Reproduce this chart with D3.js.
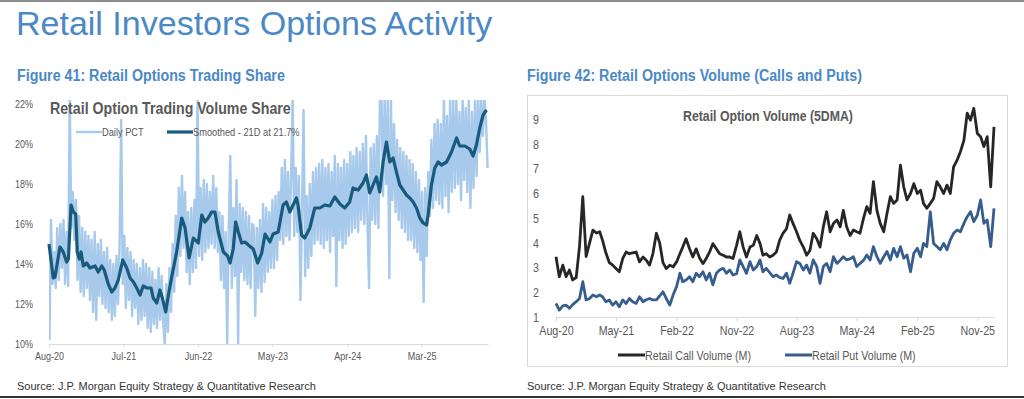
<!DOCTYPE html>
<html>
<head>
<meta charset="utf-8">
<script src="https://cdn.jsdelivr.net/npm/d3@7"></script>
<style>
body { margin: 0; background: #fff; }
svg { display: block; }
</style>
</head>
<body>
<svg id="chart" width="1024" height="399"></svg>
<script>
// ---- Figure 41 data ----
const leftTickLabels = ["Aug-20", "Jul-21", "Jun-22", "May-23", "Apr-24", "Mar-25"];
const leftYTicks = [10, 12, 14, 16, 18, 20, 22];
const leftSeriesNames = ["Daily PCT", "Smoothed - 21D at 21.7%"];

// weekly samples of the daily share, first one on this monday
const dailyStart = "2020-08-03";
const dailyPct = [
	10.2, 16.2, 13.0, 14.6, 12.8,  15.8, 13.2, 16.0, 13.8,  16.2, 13.0, 15.6, 12.9,  22.5, 15.8, 17.6, 15.2, 17.2,  13.2, 16.4, 12.6, 15.8,
	12.4, 15.6, 12.8, 15.4,  12.2, 15.2, 11.6, 15.6,  11.2, 15.0, 12.4, 15.2, 12.0,  14.6, 11.8, 14.8, 11.6,  14.2, 11.2, 14.0, 11.4, 14.4,  12.0, 15.0, 21.2, 13.0,
	15.4, 11.8, 14.8, 12.2,  14.6, 11.4, 14.2, 11.8, 14.0,  11.0, 13.8, 11.2, 14.2,  11.4, 14.0, 10.8, 13.8,  10.6, 13.6, 11.0, 13.2, 10.8,  13.8, 11.2, 13.4, 11.0,
	10.0, 13.0, 10.6, 13.8, 11.6,  15.0, 12.6, 16.4, 13.4,  17.8, 14.4, 18.4, 14.8,  17.6, 13.6, 16.6, 13.0,  16.8, 13.6, 17.2, 13.8, 22.3,  14.4, 17.8, 14.2, 18.2,
	14.6, 18.0, 14.8, 17.6,  15.0, 18.4, 14.8, 17.8, 14.6,  16.6, 13.2, 16.4, 12.8,  15.6, 10.0, 15.8, 19.4, 12.8,  16.8, 13.4, 18.2, 10.0,  17.0, 13.6, 16.8, 13.2,
	16.6, 13.0, 16.4, 12.8, 16.0,  15.9, 11.4, 15.8, 12.8,  16.2, 12.6, 17.0, 13.1,  16.8, 13.6, 16.6, 13.8,  17.2, 13.8, 17.4, 14.2, 17.6,  15.2, 18.8, 15.0, 19.2,
	15.4, 18.6, 15.2, 18.4, 22.3,  15.4, 18.8, 15.6, 18.4,  12.2, 16.8, 21.7, 13.4,  17.4, 13.8, 18.0, 14.4, 18.6,  15.0, 18.8, 15.2, 19.0,  15.0, 19.2, 14.8, 18.8,
	15.2, 19.0, 14.6, 18.6, 15.4,  19.4, 12.9, 19.0, 15.2,  18.8, 14.8, 19.2, 15.0,  19.0, 15.4, 19.6, 15.6, 19.4,  15.8, 19.8, 15.6, 19.6,  16.2, 20.0, 16.0, 20.4,
	16.0, 12.8, 19.8, 16.2, 20.0,  16.0, 20.4, 15.8, 22.3,  22.3, 17.4, 22.3, 18.0, 22.3,  13.3, 22.3, 17.2, 21.0,  16.6, 20.2, 16.2, 19.8,  15.8, 19.6, 15.6, 19.4, 15.2,
	19.2, 15.2, 19.0, 14.8,  18.6, 14.6, 18.2, 14.2,  17.6, 12.1, 17.8, 14.4, 18.6,  16.4, 20.2, 16.8, 21.0,  17.2, 21.2, 17.0, 21.0,  16.8, 22.3, 17.4, 21.4, 16.6,
	22.3, 17.6, 22.3, 17.8,  22.3, 18.0, 21.6, 17.2,  22.3, 18.2, 21.8, 17.6, 22.3,  16.8, 21.6, 17.8, 22.3,  18.4, 22.3, 19.6, 22.3,  20.4, 22.3, 21.2, 18.8
];

const smoothDates = [
	"2020-08-01", "2020-08-20", "2020-08-28", "2020-09-19", "2020-10-04", "2020-10-19", "2020-10-27", "2020-11-08", "2020-11-18", "2020-11-29",
	"2020-12-06", "2020-12-15", "2020-12-23", "2021-01-02", "2021-01-17", "2021-02-01", "2021-02-24", "2021-03-10", "2021-03-26", "2021-04-06",
	"2021-04-24", "2021-05-10", "2021-05-24", "2021-06-08", "2021-06-28", "2021-07-16", "2021-07-31", "2021-08-15", "2021-08-30", "2021-09-14",
	"2021-09-28", "2021-10-14", "2021-11-02", "2021-11-12", "2021-11-28", "2021-12-12", "2021-12-23", "2022-01-07", "2022-01-19", "2022-02-03",
	"2022-02-25", "2022-03-20", "2022-04-04", "2022-04-22", "2022-05-11", "2022-06-02", "2022-06-18", "2022-07-02", "2022-07-17", "2022-08-01",
	"2022-08-16", "2022-08-31", "2022-09-23", "2022-10-12", "2022-10-23", "2022-11-06", "2022-11-17", "2022-11-29", "2022-12-14", "2022-12-29",
	"2023-01-13", "2023-02-04", "2023-02-24", "2023-03-14", "2023-03-29", "2023-04-20", "2023-05-04", "2023-05-27", "2023-06-18", "2023-07-03",
	"2023-07-18", "2023-08-02", "2023-08-17", "2023-08-24", "2023-09-09", "2023-09-23", "2023-10-16", "2023-11-07", "2023-11-30", "2023-12-22",
	"2024-01-14", "2024-02-05", "2024-02-28", "2024-03-21", "2024-04-12", "2024-04-27", "2024-05-20", "2024-06-11", "2024-06-26", "2024-07-11",
	"2024-07-26", "2024-08-10", "2024-08-25", "2024-09-09", "2024-09-24", "2024-10-09", "2024-10-24", "2024-11-08", "2024-11-23", "2024-12-08",
	"2024-12-23", "2025-01-07", "2025-01-22", "2025-02-06", "2025-02-21", "2025-03-08", "2025-03-23", "2025-03-30", "2025-04-14", "2025-04-29",
	"2025-05-14", "2025-05-29", "2025-06-21", "2025-07-13", "2025-08-05", "2025-08-19", "2025-09-11", "2025-10-03", "2025-10-18", "2025-11-02",
	"2025-11-17", "2025-12-02", "2025-12-17"
];
const smoothPct = [
	15.0, 13.3, 13.35, 14.85, 14.6, 14.1, 14.25, 16.95, 16.6, 16.5,
	14.6, 14.25, 14.6, 13.9, 14.05, 13.8, 13.9, 13.6, 13.9, 13.7,
	13.0, 12.6, 12.8, 13.2, 14.2, 13.8, 13.3, 13.1, 12.8, 12.45,
	12.9, 12.8, 12.8, 12.3, 12.05, 12.7, 12.3, 11.6, 12.45, 13.35,
	14.6, 16.3, 15.8, 14.3, 15.3, 15.05, 16.45, 16.1, 16.3, 16.6,
	16.6, 15.6, 14.6, 14.4, 14.05, 14.75, 16.1, 15.6, 15.05, 15.1,
	14.95, 14.75, 14.05, 14.55, 15.5, 15.1, 15.5, 15.6, 16.95, 17.1,
	16.6, 16.95, 17.3, 16.95, 15.45, 15.3, 15.8, 16.8, 16.8, 16.95,
	16.9, 17.35, 17.0, 16.8, 17.1, 17.8, 17.7, 18.05, 18.45, 17.55,
	17.95, 18.35, 17.6, 19.1, 20.1, 19.1, 19.3, 18.6, 17.95, 17.7,
	17.45, 17.3, 17.1, 16.8, 16.3, 16.05, 15.95, 16.45, 17.95, 18.8,
	19.1, 18.95, 19.1, 19.6, 20.3, 19.9, 19.9, 19.75, 19.4, 19.95,
	20.8, 21.45, 21.7
];

// ---- Figure 42 data ----
const rightTickLabels = ["Aug-20", "May-21", "Feb-22", "Nov-22", "Aug-23", "May-24", "Feb-25", "Nov-25"];
const rightYTicks = [1, 2, 3, 4, 5, 6, 7, 8, 9];
const rightSeriesNames = ["Retail Call Volume (M)", "Retail Put Volume (M)"];

// two points per month (1st and 16th), starting here
const volStart = "2020-08-01";
const callVol = [
	3.44, 2.63, 3.1, 2.63, 2.9, 2.5, 2.6, 3.85, 5.87, 3.45,
	4.0, 4.52, 4.4, 4.45, 4.1, 3.6, 3.2, 3.1, 2.96, 2.83,
	3.37, 3.63, 3.56, 3.6, 3.63, 3.23, 3.43, 3.3, 3.1, 3.56,
	4.39, 4.0, 3.2, 2.96, 3.1, 3.03, 3.23, 3.56, 3.83, 4.17,
	3.76, 3.43, 3.76, 3.4, 3.16, 3.37, 3.63, 3.97, 3.76, 3.56,
	3.5, 3.43, 3.43, 3.37, 3.9, 4.45, 3.83, 3.43, 3.83, 3.9,
	4.3, 3.97, 3.5, 3.56, 3.43, 3.5, 3.63, 4.1, 4.4, 4.57,
	5.13, 4.79, 4.45, 4.1, 3.83, 3.5, 3.7, 4.39, 4.17, 3.83,
	4.65, 5.26, 4.45, 4.79, 4.93, 4.65, 5.32, 4.65, 4.3, 4.52,
	4.45, 4.39, 5.0, 5.47, 5.2, 6.48, 5.32, 4.79, 4.45, 5.2,
	5.87, 5.6, 5.74, 7.15, 6.27, 5.74, 6.0, 6.4, 6.0, 6.13,
	5.6, 5.4, 5.6, 5.8, 6.48, 6.27, 6.0, 6.34, 6.0, 7.08,
	7.35, 7.69, 8.15, 9.25, 8.97, 9.45, 8.43, 8.3, 7.9, 8.3,
	6.27, 8.7
];
const putVol = [
	1.55, 1.28, 1.45, 1.48, 1.35, 1.5, 1.62, 1.75, 2.43, 1.69,
	1.75, 1.89, 1.82, 1.89, 1.82, 1.62, 1.69, 1.48, 1.62, 1.41,
	1.69, 1.55, 1.75, 1.62, 1.55, 1.82, 1.62, 1.7, 1.75, 1.69,
	1.69, 1.85, 2.02, 1.75, 1.48, 1.89, 2.23, 2.77, 2.43, 2.5,
	2.63, 2.43, 2.77, 2.63, 2.83, 2.5, 2.77, 2.3, 2.77, 2.9,
	2.97, 2.77, 2.9, 2.7, 2.75, 3.31, 3.04, 2.77, 3.24, 2.9,
	3.04, 3.31, 2.83, 2.97, 2.8, 2.63, 2.7, 2.6, 2.56, 2.77,
	2.36, 2.77, 3.24, 3.17, 2.9, 3.1, 2.77, 3.31, 3.04, 2.36,
	3.04, 3.17, 2.83, 3.44, 3.17, 3.3, 3.44, 3.31, 3.35, 3.44,
	3.04, 3.17, 3.3, 3.51, 3.31, 3.85, 3.44, 3.17, 3.44, 3.65,
	3.31, 3.78, 3.44, 3.85, 3.38, 3.51, 2.83, 3.58, 3.78, 3.44,
	3.98, 3.85, 5.26, 3.98, 3.85, 3.72, 3.98, 3.72, 4.12, 4.39,
	4.52, 4.45, 4.79, 5.06, 5.26, 4.86, 5.12, 5.74, 4.79, 4.93,
	3.85, 5.4
];

// ---- styles ----
const blue = "#4a89c6";
const grey = "#595959";
const axisGrey = "#d9d9d9";
const narrow = '"Liberation Sans Narrow", "Arial Narrow", sans-serif';
const sans = '"Liberation Sans", Arial, sans-serif';

var svg = d3.select("#chart");
var parseDay = d3.timeParse("%Y-%m-%d");
var parseTick = d3.timeParse("%b-%y");

// is a narrow face installed? if not, squeeze the text ourselves
function probe(family) {
	var t = svg.append("text").attr("font-family", family).attr("font-size", 20).text("Retail Option Volume");
	var w = t.node().getComputedTextLength();
	t.remove();
	return w;
}
const hasNarrow = probe(narrow) < 0.9 * probe(sans);

function squeeze(sel) {
	if (hasNarrow) return;
	sel.each(function() {
		var w = this.getComputedTextLength();
		d3.select(this).attr("textLength", w * 0.82).attr("lengthAdjust", "spacingAndGlyphs");
	});
}

function label(x, y, txt, size, opts) {
	opts = opts || {};
	var t = svg.append("text")
		.attr("x", x)
		.attr("y", y)
		.attr("font-family", opts.narrow ? narrow : sans)
		.attr("font-size", size)
		.attr("font-weight", opts.bold ? "bold" : "normal")
		.attr("fill", opts.color || grey)
		.attr("text-anchor", opts.anchor || "start")
		.attr("dominant-baseline", "central")
		.text(txt);
	if (opts.narrow) squeeze(t);
	return t;
}

// page frame
svg.append("rect").attr("x", 0).attr("y", 0).attr("width", 1024).attr("height", 2).attr("fill", "#8c8c8c");
svg.append("rect").attr("x", 0).attr("y", 396).attr("width", 1024).attr("height", 2).attr("fill", "#333");

label(16, 23, "Retail Investors Options Activity", 34, {color: blue});
label(17, 75, "Figure 41: Retail Options Trading Share", 17.4, {color: blue, bold: true, narrow: true});
label(527, 75, "Figure 42: Retail Options Volume (Calls and Puts)", 17.4, {color: blue, bold: true, narrow: true});
label(17, 386, "Source: J.P. Morgan Equity Strategy & Quantitative Research", 11, {color: "#333"});
label(527, 386, "Source: J.P. Morgan Equity Strategy & Quantitative Research", 11, {color: "#333"});

function styleXAxis(g, size) {
	g.select(".domain").attr("stroke", axisGrey);
	g.selectAll(".tick line").attr("stroke", axisGrey);
	g.selectAll(".tick text")
		.attr("fill", grey)
		.attr("font-family", narrow)
		.attr("font-size", size)
		.call(squeeze);
}

function styleYAxis(g, size) {
	g.select(".domain").remove();
	g.selectAll(".tick line").remove();
	g.selectAll(".tick text")
		.attr("fill", grey)
		.attr("font-family", narrow)
		.attr("font-size", size)
		.call(squeeze);
}

// ---------------- Figure 41 ----------------
function draw_left() {
	var x = d3.scaleTime().domain([parseDay("2020-08-01"), parseDay("2025-12-24")]).range([49, 488]);
	var y = d3.scaleLinear().domain([10, 22]).range([344, 104]);

	svg.append("clipPath").attr("id", "clipL")
		.append("rect").attr("x", 49).attr("y", y(22.2)).attr("width", 442).attr("height", y(10) - y(22.2));

	var start = parseDay(dailyStart);
	var daily = dailyPct.map((v, i) => ({date: d3.timeDay.offset(start, 7 * i), v: v}));
	var smooth = smoothPct.map((v, i) => ({date: parseDay(smoothDates[i]), v: v}));

	var line = d3.line().x(d => x(d.date)).y(d => y(d.v));

	var gx = svg.append("g")
		.attr("transform", "translate(0," + y(10) + ")")
		.call(d3.axisBottom(x)
			.tickValues(leftTickLabels.map(parseTick))
			.tickFormat(d3.timeFormat("%b-%y"))
			.tickSizeInner(3).tickSizeOuter(0).tickPadding(5));
	styleXAxis(gx, 11);

	var gy = svg.append("g")
		.attr("transform", "translate(49,0)")
		.call(d3.axisLeft(y).tickValues(leftYTicks).tickFormat(d => d + "%").tickPadding(10));
	styleYAxis(gy, 11);

	svg.append("path").datum(daily)
		.attr("clip-path", "url(#clipL)")
		.attr("d", line)
		.attr("fill", "none")
		.attr("stroke", "#a7c9eb")
		.attr("stroke-width", 2.4)
		.attr("stroke-linejoin", "round");

	svg.append("path").datum(smooth)
		.attr("d", line)
		.attr("fill", "none")
		.attr("stroke", "#175a7c")
		.attr("stroke-width", 3.2)
		.attr("stroke-linejoin", "round");

	label(50, 108, "Retail Option Trading Volume Share", 17.3, {bold: true, narrow: true});

	// legend
	var lx = [76, 167];
	var lc = ["#a7c9eb", "#175a7c"];
	var lw = [2.4, 3.2];
	leftSeriesNames.forEach(function(name, i) {
		svg.append("line")
			.attr("x1", lx[i]).attr("x2", lx[i] + 26)
			.attr("y1", 132).attr("y2", 132)
			.attr("stroke", lc[i]).attr("stroke-width", lw[i]);
		label(lx[i] + 26, 132, name, 11.3, {narrow: true});
	});
}

// ---------------- Figure 42 ----------------
function draw_right() {
	svg.append("rect")
		.attr("x", 527.5).attr("y", 95.5).attr("width", 480).attr("height", 271)
		.attr("fill", "none").attr("stroke", axisGrey);

	var x = d3.scaleTime().domain([parseDay("2020-08-01"), parseDay("2026-01-16")]).range([556, 994]);
	var y = d3.scaleLinear().domain([1, 9]).range([317, 119.4]);

	var start = parseDay(volStart);
	var when = i => d3.timeDay.offset(d3.timeMonth.offset(start, Math.floor(i / 2)), (i % 2) * 15);
	var calls = callVol.map((v, i) => ({date: when(i), v: v}));
	var puts = putVol.map((v, i) => ({date: when(i), v: v}));

	var line = d3.line().x(d => x(d.date)).y(d => y(d.v));

	var gx = svg.append("g")
		.attr("transform", "translate(0," + y(1) + ")")
		.call(d3.axisBottom(x)
			.tickValues(rightTickLabels.map(parseTick))
			.tickFormat(d3.timeFormat("%b-%y"))
			.tickSizeInner(4).tickSizeOuter(0).tickPadding(5));
	styleXAxis(gx, 13);

	var gy = svg.append("g")
		.attr("transform", "translate(556,0)")
		.call(d3.axisLeft(y).tickValues(rightYTicks).tickPadding(11));
	styleYAxis(gy, 13);

	svg.append("path").datum(calls)
		.attr("d", line)
		.attr("fill", "none")
		.attr("stroke", "#262626")
		.attr("stroke-width", 2.8)
		.attr("stroke-linejoin", "round");

	svg.append("path").datum(puts)
		.attr("d", line)
		.attr("fill", "none")
		.attr("stroke", "#365d8e")
		.attr("stroke-width", 2.8)
		.attr("stroke-linejoin", "round");

	label(768, 115, "Retail Option Volume (5DMA)", 15, {bold: true, narrow: true, anchor: "middle"});

	var lx = [618, 785];
	var lc = ["#262626", "#365d8e"];
	rightSeriesNames.forEach(function(name, i) {
		svg.append("line")
			.attr("x1", lx[i]).attr("x2", lx[i] + 27)
			.attr("y1", 355).attr("y2", 355)
			.attr("stroke", lc[i]).attr("stroke-width", 3);
		label(lx[i] + 27, 355, name, 13, {narrow: true});
	});
}

draw_left();
draw_right();
</script>
</body>
</html>
